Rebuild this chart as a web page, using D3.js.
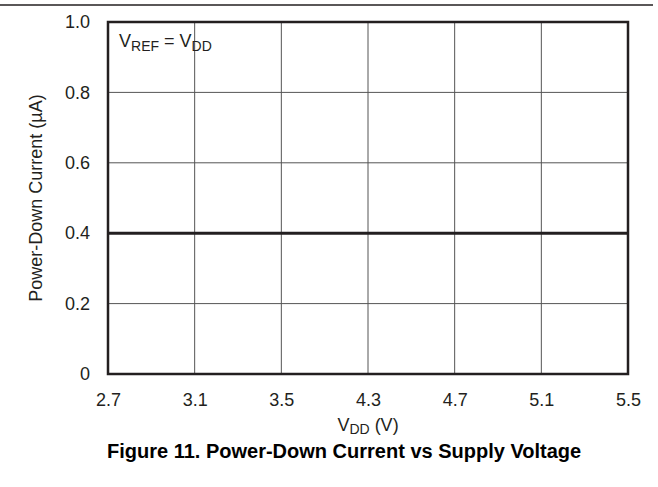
<!DOCTYPE html>
<html>
<head>
<meta charset="utf-8">
<script src="https://cdn.jsdelivr.net/npm/d3@7"></script>
<style>
  body { margin: 0; background: #fff; }
  text { font-family: "Liberation Sans", Arial, sans-serif; fill: #231f20; }
</style>
</head>
<body>
<div id="chart"></div>
<script>
// tick labels on the x axis (evenly spaced in the original figure)
var xTicks = ["2.7", "3.1", "3.5", "4.3", "4.7", "5.1", "5.5"];
var yTicks = [0, 0.2, 0.4, 0.6, 0.8, 1.0];

// power-down current, flat across supply range
var vdd = ["2.7", "3.1", "3.5", "4.3", "4.7", "5.1", "5.5"];
var current = [0.4, 0.4, 0.4, 0.4, 0.4, 0.4, 0.4];

var w = 658, h = 487;
var margin = { top: 22, right: 30, bottom: 113, left: 108 };
var width = w - margin.left - margin.right;
var height = h - margin.top - margin.bottom;

var svg = d3.select("#chart").append("svg")
  .attr("width", w)
  .attr("height", h);

// rule across the top of the page
svg.append("line")
  .attr("x1", 0).attr("x2", 653)
  .attr("y1", 5).attr("y2", 5)
  .attr("stroke", "#231f20")
  .attr("stroke-width", 1.5);

var chartGroup = svg.append("g")
  .attr("transform", `translate(${margin.left}, ${margin.top})`);

var xScale = d3.scalePoint()
  .domain(xTicks)
  .range([0, width]);

var yScale = d3.scaleLinear()
  .domain([0, 1])
  .range([height, 0]);

// grid
chartGroup.append("g")
  .selectAll("line.vgrid")
  .data(xTicks)
  .enter()
  .append("line")
  .attr("class", "vgrid")
  .attr("x1", d => xScale(d)).attr("x2", d => xScale(d))
  .attr("y1", 0).attr("y2", height)
  .attr("stroke", "#555")
  .attr("stroke-width", 1);

chartGroup.append("g")
  .selectAll("line.hgrid")
  .data(yTicks)
  .enter()
  .append("line")
  .attr("class", "hgrid")
  .attr("x1", 0).attr("x2", width)
  .attr("y1", d => yScale(d)).attr("y2", d => yScale(d))
  .attr("stroke", "#555")
  .attr("stroke-width", 1);

// axes (labels only, the frame is drawn below)
var bottomAxis = d3.axisBottom(xScale).tickSize(0).tickPadding(19);
var leftAxis = d3.axisLeft(yScale)
  .tickValues(yTicks)
  .tickSize(0)
  .tickPadding(18)
  .tickFormat(d => d === 0 ? "0" : d3.format(".1f")(d));

var xAxis = chartGroup.append("g")
  .attr("transform", `translate(0, ${height})`)
  .call(bottomAxis);
var yAxis = chartGroup.append("g").call(leftAxis);

[xAxis, yAxis].forEach(function(ax) {
  ax.select(".domain").remove();
  ax.attr("font-size", null).attr("font-family", null);
  ax.selectAll("text")
    .style("font-size", "18px")
    .style("fill", "#231f20");
});

// data line
var line = d3.line()
  .x((d, i) => xScale(vdd[i]))
  .y(d => yScale(d));

chartGroup.append("path")
  .datum(current)
  .attr("d", line)
  .attr("fill", "none")
  .attr("stroke", "#231f20")
  .attr("stroke-width", 3);

// frame
chartGroup.append("rect")
  .attr("x", 0).attr("y", 0)
  .attr("width", width).attr("height", height)
  .attr("fill", "none")
  .attr("stroke", "#231f20")
  .attr("stroke-width", 2.5);

// annotation
var note = chartGroup.append("text")
  .attr("x", 11)
  .attr("y", 25)
  .style("font-size", "18px");
note.append("tspan").text("V");
note.append("tspan").style("font-size", "14px").attr("dy", 4).text("REF");
note.append("tspan").attr("dy", -4).text(" = V");
note.append("tspan").style("font-size", "14px").attr("dy", 4).text("DD");

// y axis label
chartGroup.append("text")
  .attr("transform", "rotate(-90)")
  .attr("x", -(198 - margin.top))
  .attr("y", 42 - margin.left)
  .attr("text-anchor", "middle")
  .style("font-size", "18px")
  .text("Power-Down Current (\u00b5A)");

// x axis label
var xl = chartGroup.append("text")
  .attr("x", width / 2)
  .attr("y", 431 - margin.top)
  .attr("text-anchor", "middle")
  .style("font-size", "18px");
xl.append("tspan").text("V");
xl.append("tspan").style("font-size", "14px").attr("dy", 3).text("DD");
xl.append("tspan").attr("dy", -3).text(" (V)");

// caption
svg.append("text")
  .attr("x", 107)
  .attr("y", 458)
  .style("font-size", "20px")
  .style("font-weight", "bold")
  .style("fill", "#000")
  .text("Figure 11. Power-Down Current vs Supply Voltage");
</script>
</body>
</html>
